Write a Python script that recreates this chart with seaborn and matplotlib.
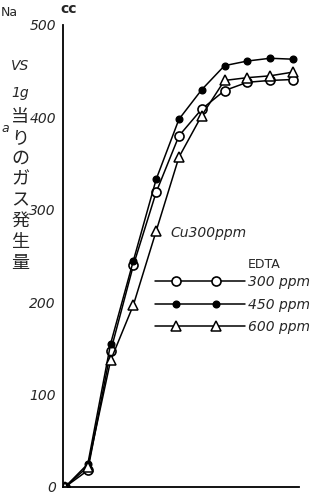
import numpy as np
import pandas as pd
import matplotlib
matplotlib.use("Agg")
import matplotlib.pyplot as plt
import seaborn as sns
from matplotlib.legend_handler import HandlerLine2D
from matplotlib.lines import Line2D
from matplotlib.ticker import MultipleLocator

# ---- data ----
x_idx = list(range(11))
edta_300 = [0, 18, 147, 240, 319, 380, 409, 429, 438, 440, 441]
edta_450 = [0, 25, 155, 245, 333, 398, 430, 456, 461, 464, 463]
edta_600 = [0, 22, 137, 197, 277, 357, 402, 440, 443, 445, 449]
series_labels = ["300 ppm", "450 ppm", "600 ppm"]
y_ticks = [0, 100, 200, 300, 400, 500]
y_ticklabels = ["0", "100", "200", "300", "400", "500"]

df = pd.DataFrame({
    "x": x_idx * 3,
    "y": edta_300 + edta_450 + edta_600,
    "s": sum([[lab] * len(x_idx) for lab in series_labels], []),
})

sns.set_style("white")
plt.rcParams["font.family"] = ["DejaVu Sans", "Noto Sans CJK JP"]

W, H = 324, 497
fig = plt.figure(figsize=(W / 100, H / 100), dpi=100)
def fx(px):
    return px / W
def fy(py):
    return 1 - py / H

ax = fig.add_axes([fx(63), fy(487), fx(299) - fx(63), fy(25) - fy(487)])

styles = {
    "300 ppm": dict(marker="o", ms=6.5, mfc="white", mec="black", mew=1.2),
    "450 ppm": dict(marker="o", ms=4.8, mfc="black", mec="black", mew=1.0),
    "600 ppm": dict(marker="^", ms=7.5, mfc="white", mec="black", mew=1.1),
}
for lab in series_labels:
    sub = df[df["s"] == lab]
    sns.lineplot(data=sub, x="x", y="y", ax=ax, color="black", lw=1.1,
                 legend=False, label=lab, **styles[lab])

ax.set_xlim(-0.09, 10.27)
ax.set_ylim(0, 500)
ax.set_xlabel("")
ax.set_ylabel("")
for s in ["top", "right"]:
    ax.spines[s].set_visible(False)
for s in ["left", "bottom"]:
    ax.spines[s].set_color("black")
    ax.spines[s].set_linewidth(1.3)

ax.set_xticks(x_idx)
ax.set_xticklabels([])
ax.tick_params(axis="x", direction="in", length=5, width=1.1, color="black")
ax.set_yticks(y_ticks)
ax.set_yticklabels(y_ticklabels, fontstyle="italic", fontsize=10)
ax.yaxis.set_minor_locator(MultipleLocator(50))
ax.tick_params(axis="y", which="major", direction="inout", length=8, width=1.1,
               color="black", pad=1)
ax.tick_params(axis="y", which="minor", direction="in", length=5, width=1.1,
               color="black")
ax.grid(False)

# ---- legend ----
class InsetMarkerHandler(HandlerLine2D):
    def create_artists(self, legend, orig_handle, xdescent, ydescent, width,
                       height, fontsize, trans):
        x0 = -xdescent
        xdata = np.array([x0, x0 + 0.23 * width, x0 + 0.68 * width, x0 + width])
        ydata = np.full_like(xdata, (height - ydescent) / 2)
        legline = Line2D(xdata, ydata)
        self.update_prop(legline, orig_handle, legend)
        legline.set_markevery([1, 2])
        legline.set_transform(trans)
        return [legline]

handles = [l for l in ax.get_lines() if l.get_label() in series_labels]
leg = ax.legend(handles, series_labels, loc="upper left",
                bbox_to_anchor=(fx(155), fy(275)), bbox_transform=fig.transFigure,
                frameon=False, borderpad=0, borderaxespad=0,
                handlelength=6.5, handletextpad=0.2, labelspacing=0.62,
                prop=dict(size=10, style="italic"),
                handler_map={Line2D: InsetMarkerHandler()})

# ---- texts ----
fig.text(fx(170), fy(233), "Cu300ppm", fontsize=10, fontstyle="italic",
         va="center", ha="left")
fig.text(fx(248), fy(265), "EDTA", fontsize=9, va="center", ha="left")
fig.text(fx(60), fy(9), "cc", fontsize=10, fontweight="bold", va="center", ha="left")
fig.text(fx(20), fy(66), "VS", fontsize=10, fontstyle="italic", va="center", ha="center")
fig.text(fx(20), fy(93), "1g", fontsize=10, fontstyle="italic", va="center", ha="center")
fig.text(fx(20), fy(108), "\n".join("当りのガス発生量"), fontsize=13,
         family=["Noto Sans CJK JP", "DejaVu Sans"], va="top", ha="center",
         linespacing=1.2)
fig.text(fx(1), fy(13), "Na", fontsize=9, va="center", ha="left")
fig.text(fx(1), fy(128), "a", fontsize=9, fontstyle="italic", va="center", ha="left")

fig.savefig("out.png", dpi=100, facecolor="white")
